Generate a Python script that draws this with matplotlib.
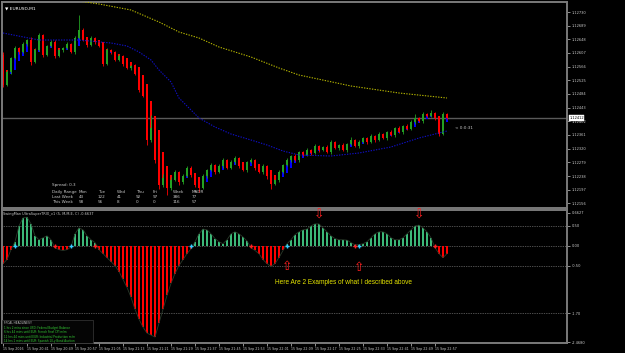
import numpy as np
import matplotlib.pyplot as plt
from matplotlib.patches import Rectangle

W, H = 625, 353

# =============================================
#          DATOS  (EURUSD, M1)
# =============================================
first_open = 1.12601
closes = [
    1.12511, 1.12550, 1.12592, 1.12622, 1.12610, 1.12634, 1.12646, 1.12580, 1.12616, 1.12661,
    1.12601, 1.12628, 1.12640, 1.12598, 1.12616, 1.12622, 1.12634, 1.12610, 1.12652, 1.12676,
    1.12646, 1.12631, 1.12652, 1.12640, 1.12628, 1.12574, 1.12616, 1.12610, 1.12586, 1.12598,
    1.12574, 1.12562, 1.12568, 1.12544, 1.12496, 1.12478, 1.12346, 1.12382, 1.12286, 1.12211,
    1.12232, 1.12202, 1.12226, 1.12250, 1.12220, 1.12238, 1.12262, 1.12241, 1.12211, 1.12202,
    1.12238, 1.12256, 1.12271, 1.12250, 1.12268, 1.12286, 1.12262, 1.12280, 1.12292, 1.12268,
    1.12256, 1.12280, 1.12286, 1.12262, 1.12250, 1.12268, 1.12238, 1.12214, 1.12226, 1.12250,
    1.12271, 1.12286, 1.12298, 1.12286, 1.12310, 1.12301, 1.12316, 1.12307, 1.12328, 1.12316,
    1.12325, 1.12310, 1.12340, 1.12322, 1.12331, 1.12316, 1.12334, 1.12346, 1.12328, 1.12340,
    1.12352, 1.12340, 1.12358, 1.12346, 1.12364, 1.12352, 1.12370, 1.12361, 1.12382, 1.12370,
    1.12388, 1.12379, 1.12400, 1.12412, 1.12403, 1.12424, 1.12418, 1.12427, 1.12412, 1.12364,
    1.12424, 1.12412]

# mechas en puntos (1 punto = 0.00001)
up_wick = [8, 6, 4, 5, 3, 6, 4, 9, 5, 6,
           4, 3, 5, 6, 3, 4, 5, 3, 6, 45,
           5, 4, 6, 3, 5, 4, 6, 3, 4, 5,
           3, 6, 4, 5, 3, 6, 5, 40, 9, 6,
           12, 5, 8, 6, 4, 7, 5, 6, 4, 6,
           5, 4, 6, 3, 5, 6, 4, 7, 5, 3,
           5, 4, 6, 3, 4, 5, 3, 6, 4, 5,
           3, 6, 4, 5, 3, 4, 6, 3, 5, 4,
           3, 5, 6, 4, 3, 5, 4, 9, 3, 5,
           4, 3, 6, 4, 5, 3, 4, 6, 3, 5,
           4, 6, 5, 12, 4, 6, 3, 9, 4, 5,
           6, 3]
lo_wick = [6, 4, 5, 3, 6, 4, 5, 8, 4, 3,
           5, 4, 3, 6, 4, 5, 3, 4, 5, 3,
           4, 6, 3, 5, 4, 6, 3, 5, 4, 3,
           5, 4, 6, 3, 5, 4, 15, 6, 9, 12,
           6, 21, 5, 4, 8, 5, 4, 6, 5, 12,
           4, 5, 3, 6, 4, 5, 3, 4, 6, 5,
           4, 5, 3, 6, 4, 5, 8, 15, 4, 5,
           3, 4, 5, 3, 6, 4, 3, 5, 4, 6,
           4, 3, 5, 4, 6, 3, 5, 4, 3, 5,
           4, 6, 3, 5, 4, 3, 5, 4, 6, 3,
           5, 4, 3, 5, 4, 6, 3, 4, 5, 6,
           4, 3]

current_price = 1.12412

# medias moviles (indice de barra, precio)
blue_idx = [0, 9, 19, 27, 31, 34, 37, 39, 42, 44, 47, 49, 53, 57, 62, 66, 70, 74, 82, 89, 97, 104, 111]
blue_ma = [1.12667, 1.12646, 1.12646, 1.12637, 1.12628, 1.12610, 1.12586, 1.12556, 1.12520, 1.12472,
           1.12436, 1.12412, 1.12385, 1.12364, 1.12346, 1.12331, 1.12313, 1.12301, 1.12298, 1.12307,
           1.12325, 1.12352, 1.12373]
yel_idx = [17, 19, 24, 32, 39, 44, 49, 54, 62, 69, 74, 87, 99, 111]
yel_ma = [1.12775, 1.12763, 1.12754, 1.12736, 1.12700, 1.12670, 1.12652, 1.12625, 1.12595, 1.12562,
          1.12541, 1.12508, 1.12487, 1.12472]

# SwingMan UltraSuperTRIX
hist = [
    -0.45, -0.35, -0.1, 0.1, 0.5, 0.7, 0.72, 0.55, 0.25, 0.15,
    0.2, 0.25, 0.15, -0.05, -0.1, -0.12, -0.1, -0.03, 0.3, 0.45,
    0.4, 0.25, 0.15, 0.08, -0.1, -0.2, -0.3, -0.4, -0.5, -0.65,
    -0.85, -1.05, -1.3, -1.6, -1.85, -2.05, -2.2, -2.25, -2.3, -1.95,
    -1.6, -1.25, -0.95, -0.7, -0.5, -0.35, -0.2, -0.08, 0.1, 0.3,
    0.42, 0.4, 0.3, 0.18, 0.1, 0.05, 0.15, 0.3, 0.35, 0.3,
    0.22, 0.12, -0.05, -0.12, -0.2, -0.35, -0.45, -0.52, -0.45, -0.3,
    -0.12, 0.05, 0.15, 0.28, 0.35, 0.4, 0.42, 0.5, 0.55, 0.55,
    0.45, 0.35, 0.25, 0.18, 0.15, 0.15, 0.14, 0.08, 0.02, 0.03,
    0.05, 0.1, 0.2, 0.3, 0.35, 0.35, 0.3, 0.2, 0.15, 0.15,
    0.2, 0.3, 0.4, 0.5, 0.52, 0.45, 0.35, 0.2, -0.05, -0.2,
    -0.3, -0.2]
levels = [0.5, 0.0, -0.5, -1.7]
cross_up_idx = [3, 17, 47, 71, 89]
cross_dn_idx = [13, 23, 62, 88, 108]
arrow_dn_idx = [79, 104]
arrow_up_idx = [71, 89]

time_idx = list(range(0, 109, 6))
time_labels = ['15 Sep 2016', '15 Sep 20:41', '15 Sep 20:49', '15 Sep 20:57', '15 Sep 21:05',
               '15 Sep 21:13', '15 Sep 21:21', '15 Sep 21:29', '15 Sep 21:37', '15 Sep 21:45',
               '15 Sep 21:53', '15 Sep 22:01', '15 Sep 22:09', '15 Sep 22:17', '15 Sep 22:25',
               '15 Sep 22:33', '15 Sep 22:41', '15 Sep 22:49', '15 Sep 22:57']

spread_cols = ['Mon', 'Tue', 'Wed', 'Thu', 'Fri', 'Week', 'MADR']
last_week = ['43', '122', '41', '92', '97', '386', '77']
this_week = ['58', '56', '8', '0', '0', '116', '57']

news = ['1 hrs 2 mins since USD: Federal Budget Balance',
        '6 hrs 44 mins until EUR: French Final CPI m/m',
        '11 hrs 44 mins until EUR: Industrial Production m/m',
        '14 hrs 1 mins until EUR: Spanish 10-y Bond Auction']

# =============================================
#               CALCULOS
# =============================================
closes = np.array(closes)
n = len(closes)
x = np.arange(n)
opens = np.concatenate([[first_open], closes[:-1]])
highs = np.maximum(opens, closes) + np.array(up_wick) * 1e-5
lows = np.minimum(opens, closes) - np.array(lo_wick) * 1e-5

# Heiken Ashi
ha_close = (opens + highs + lows + closes) / 4
ha_open = np.zeros(n)
ha_open[0] = (opens[0] + closes[0]) / 2
for i in range(1, n):
    ha_open[i] = (ha_open[i - 1] + ha_close[i - 1]) / 2

# =============================================
#               GRAFICO
# =============================================
GRAY = '#7a7a7a'
TXT = '#c8c8c8'

fig = plt.figure(figsize=(W / 100, H / 100), dpi=100, facecolor='black')


def px_axes(x0, y0, x1, y1):
    return fig.add_axes([x0 / W, 1 - y1 / H, (x1 - x0) / W, (y1 - y0) / H])


def ftext(px, py, s, **kw):
    kw.setdefault('va', 'center')
    fig.text(px / W, 1 - py / H, s, **kw)


ax = px_axes(2, 2, 567, 208)
ax2 = px_axes(2, 210, 567, 343)
for a in (ax, ax2):
    a.set_facecolor('black')
    a.set_xlim(-0.25, 141)
    for s in a.spines.values():
        s.set_color(GRAY)
        s.set_linewidth(1.4)
    a.yaxis.tick_right()
    a.tick_params(axis='y', colors=TXT, labelsize=2.6, length=2, width=0.5, pad=1.5)

# --- panel principal ---
ax.set_ylim(1.12142, 1.12760)
ax.axhline(current_price, color='#5a5a5a', lw=1.0, zorder=0)

ha_col = np.where(ha_close >= ha_open, '#0000ff', '#ff0000')
ax.bar(x, np.abs(ha_close - ha_open), bottom=np.minimum(ha_open, ha_close),
       width=0.5, color=ha_col, zorder=1)

col = np.where(closes > opens, '#23a023', np.where(closes < opens, '#ff0000', '#ffffff'))
ax.vlines(x, lows, highs, colors=col, lw=0.6, zorder=2)
ax.bar(x, np.maximum(np.abs(closes - opens), 1.5e-5), bottom=np.minimum(opens, closes),
       width=0.5, color=col, zorder=2)

ax.plot(blue_idx, blue_ma, color='#1010c8', ls=(0, (1.2, 1.2)), lw=0.8, zorder=3)
ax.plot(yel_idx, yel_ma, color='#b4b400', ls=(0, (1.2, 1.2)), lw=0.8, zorder=3)

price_ticks = [1.12730 - 0.00041 * k for k in range(15)]
ax.set_yticks(price_ticks)
ax.set_yticklabels([f'{v:.5f}' for v in price_ticks])
ax.set_xticks([])
ax.text(1.004, current_price, '1.12412', transform=ax.get_yaxis_transform(), fontsize=2.6,
        color='black', va='center', ha='left',
        bbox=dict(boxstyle='square,pad=0.15', fc='white', ec='white', lw=0.3))
ax.text(n + 1, current_price - 0.00030, '< 0:0:31', fontsize=3.0, color=TXT, va='center')

ftext(5, 8, '\u25bc EURUSD,M1', fontsize=3.2, color='white')

# tabla de spread
ftext(52, 185, 'Spread: 0.3', fontsize=3.0, color=TXT)
ftext(52, 192, 'Daily Range', fontsize=3.0, color=TXT)
ftext(52, 197, 'Last Week', fontsize=3.0, color=TXT)
ftext(52, 202, 'This Week', fontsize=3.0, color=TXT)
col_x = [79, 98, 117, 136, 153, 173, 192]
for cx, c, lw_, tw in zip(col_x, spread_cols, last_week, this_week):
    ftext(cx, 192, c, fontsize=3.0, color=TXT)
    ftext(cx, 197, lw_, fontsize=3.0, color=TXT)
    ftext(cx, 202, tw, fontsize=3.0, color=TXT)

# --- indicador ---
hist = np.array(hist)
ax2.set_ylim(-2.45, 0.9)
for lv in levels:
    ax2.axhline(lv, color='#9a9a9a', ls=(0, (1, 1.5)), lw=0.5, zorder=0)
hcol = np.where(hist >= 0, '#3cb878', '#ff0000')
ax2.bar(x, hist, width=0.6, color=hcol, zorder=1)
ax2.plot(x, hist, color='#2a3a2a', lw=0.6, zorder=2)
ax2.plot(cross_up_idx, [0] * len(cross_up_idx), ls='none', marker='+', ms=3.5, mew=1.0,
         color='#33ccff', zorder=3)
ax2.plot(cross_dn_idx, [0] * len(cross_dn_idx), ls='none', marker='+', ms=3.5, mew=1.0,
         color='#ff2020', zorder=3)
for i in arrow_dn_idx:
    ax2.text(i, 0.76, '\u21e9', fontsize=9, color='#ff2020', ha='center', va='center')
for i in arrow_up_idx:
    ax2.text(i, hist[i] - 0.58, '\u21e7', fontsize=9, color='#ff2020', ha='center', va='center')

ax2.set_yticks([0.825, 0.5, 0.0, -0.5, -1.7, -2.43])
ax2.set_yticklabels(['0.6627', '0.50', '0.00', '-0.50', '-1.70', '-2.4680'])
ax2.set_xticks(time_idx)
ax2.set_xticklabels(time_labels, ha='left')
ax2.tick_params(axis='x', colors=TXT, labelsize=2.3, length=2, width=0.5, pad=1)

ftext(3, 213.5, 'SwingMan UltraSuperTRIX_v1 (5, M,M,E, C) -0.6637', fontsize=2.5, color=TXT)
ftext(275, 282, 'Here Are 2 Examples of what I described above', fontsize=4.7,
      color='#e6e600', family='Liberation Sans')

# noticias
fig.patches.append(Rectangle((2 / W, 1 - 343 / H), 91 / W, 23 / H, transform=fig.transFigure,
                             fc='#050505', ec='#3a3a3a', lw=0.5, zorder=5))
ftext(4, 323.5, 'FFCAL HEADLINES!!', fontsize=2.1, color=TXT, zorder=6)
for k, line in enumerate(news):
    ftext(4, 328 + 4.3 * k, line, fontsize=2.0, color='#33cc33', zorder=6)

fig.savefig('out.png', dpi=100, facecolor='black')
